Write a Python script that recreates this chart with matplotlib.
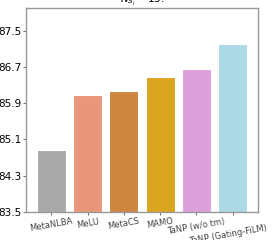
import matplotlib
matplotlib.use("Agg")
import matplotlib.pyplot as plt
import matplotlib.transforms as mtransforms

models = ["MetaNLBA", "MeLU", "MetaCS", "MAMO", "TaNP (w/o tm)", "TaNP (Gating-FiLM)"]
scores = [84.87, 86.09, 86.17, 86.48, 86.66, 87.20]
colors = ["darkgray", "darksalmon", "peru", "goldenrod", "plum", "lightblue"]
yticks = [83.5, 84.3, 85.1, 85.9, 86.7, 87.5]


def main():
    fig = plt.figure(figsize=(2.73, 2.4), dpi=100)
    ax = fig.add_axes([0.095, 0.117, 0.85, 0.85])

    x = list(range(len(models)))
    ax.bar(x, scores, width=0.8, color=colors, edgecolor="white", linewidth=0.8)

    ax.set_ylim(83.5, 88.0)
    ax.set_xlim(-0.7, len(models) - 0.3)
    ax.set_yticks(yticks)
    ax.set_yticklabels([f"{v:.1f}" for v in yticks], fontsize=7.5)
    ax.set_xticks(x)
    ax.set_xticklabels(models, rotation=10, fontsize=6, color="#444444")
    ax.tick_params(axis="both", length=2, width=0.6, color="#555555", pad=1.5)
    ax.set_title(r"$N_{S_i} = 15.$", fontsize=7.5, pad=1)

    # last label sits a bit lower so it doesn't run into its neighbour
    last = ax.get_xticklabels()[-1]
    shift = mtransforms.ScaledTranslation(-3 / 72, -5 / 72, fig.dpi_scale_trans)
    last.set_transform(last.get_transform() + shift)

    for s in ax.spines.values():
        s.set_color("#999999")
        s.set_linewidth(1.0)

    fig.savefig("out.png", dpi=100)


if __name__ == "__main__":
    main()
